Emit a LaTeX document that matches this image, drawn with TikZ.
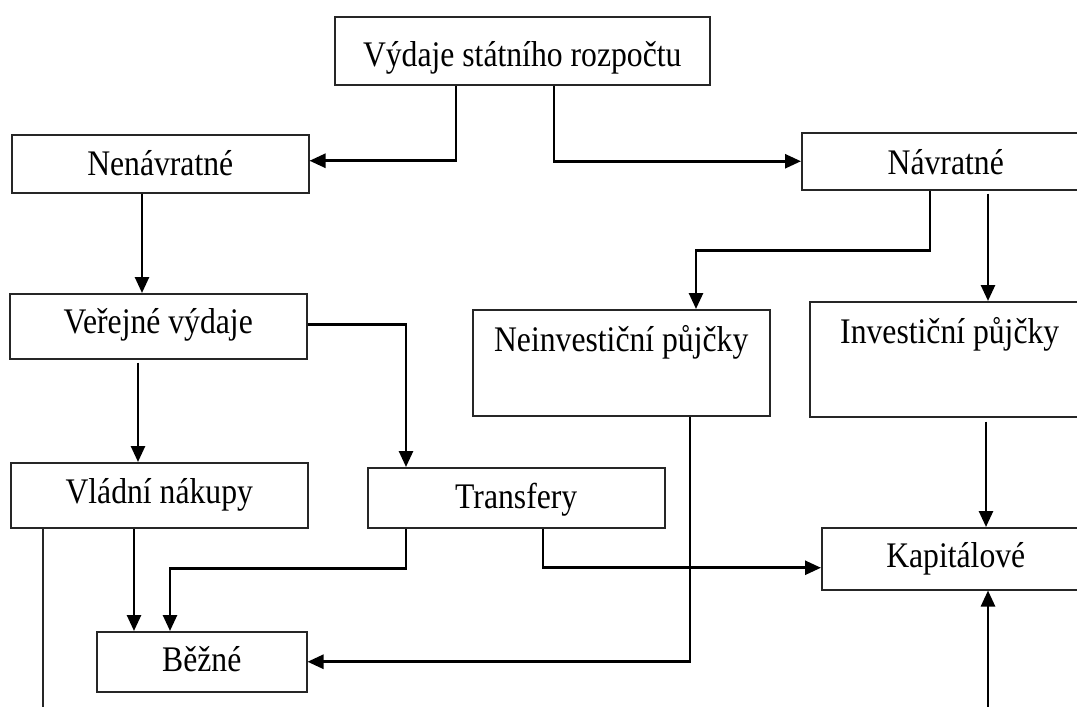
\documentclass[tikz,border=0pt]{standalone}
\usepackage{fontspec}
\setmainfont{Liberation Serif}[FakeStretch=0.88]
\usetikzlibrary{arrows.meta}
\begin{document}
\begin{tikzpicture}[x=1pt,y=-1pt,
  box/.style={draw=black!85, line width=1.5pt, rectangle, inner xsep=0pt,
    inner ysep=0pt, anchor=north west, font=\fontsize{36}{40}\selectfont},
  flow/.style={line width=2.6pt, -{Triangle[width=14pt,length=16pt]}},
  plain/.style={line width=1.2pt, draw=black!85}]
\useasboundingbox (0,0) rectangle (1077,707);

% boxes
\node[box, minimum width=375pt, text height=50pt, text depth=18pt] (top) at (334,16) {Výdaje státního rozpočtu};
\node[box, minimum width=297pt, text height=41pt, text depth=17pt] (nen) at (11,134) {Nenávratné};
\node[box, minimum width=288pt, text height=42pt, text depth=15pt] (nav) at (801,132) {Návratné};
\node[box, minimum width=297pt, text height=40pt, text depth=25pt] (ver) at (9,293) {Veřejné výdaje};
\node[box, minimum width=297pt, text height=41pt, text depth=24pt] (vla) at (10,462) {Vládní nákupy};
\node[box, minimum width=297pt, text height=41pt, text depth=19pt] (tra) at (367,467) {Transfery};
\node[box, minimum width=297pt, text height=42pt, text depth=64pt] (nei) at (472,309) {Neinvestiční půjčky};
\node[box, minimum width=280pt, text height=42pt, text depth=73pt] (inv) at (809,301) {Investiční půjčky};
\node[box, minimum width=268pt, text height=40pt, text depth=22pt] (kap) at (821,527) {Kapitálové};
\node[box, minimum width=210pt, text height=40pt, text depth=20pt] (bez) at (96,631) {Běžné};

% connector end points
\coordinate (t1) at ([xshift=122pt]top.south west);
\coordinate (t2) at ([xshift=220pt]top.south west);
\coordinate (n1) at ([xshift=131pt]nen.south west);
\coordinate (v1) at ([xshift=129pt,yshift=-3pt]ver.south west);
\coordinate (r1) at ([xshift=39pt]tra.north west);
\coordinate (w1) at ([xshift=124pt]vla.south west);
\coordinate (r2) at ([xshift=39pt]tra.south west);
\coordinate (b1) at ([xshift=74pt]bez.north west);
\coordinate (r3) at ([xshift=176pt]tra.south west);
\coordinate (m1) at ([xshift=129pt]nav.south west);
\coordinate (q1) at ([xshift=224pt]nei.north west);
\coordinate (m2) at ([xshift=187pt,yshift=-3pt]nav.south west);
\coordinate (i1) at ([xshift=177pt,yshift=-4pt]inv.south west);
\coordinate (k0) at (988,712);
\coordinate (e1) at ([xshift=218pt]nei.south west);
\coordinate (h1) at ([xshift=33pt]vla.south west);
\coordinate (h0) at (43,712);

% connectors
\draw[flow] (t1) |- ([yshift=3pt]nen.east);
\draw[flow] (t2) |- (nav.west);
\draw[flow] (n1) -- (n1 |- ver.north);
\draw[flow] (v1) -- (v1 |- vla.north);
\draw[flow] ([yshift=2pt]ver.east) -| (r1);
\draw[flow] (w1) -- (w1 |- bez.north);
\draw[flow] (r2) -- ++(0,40) -| (b1);
\draw[flow] (r3) |- ([yshift=-9pt]kap.west);
\draw[flow] (m1) -- ++(0,60) -| (q1);
\draw[flow] (m2) -- (m2 |- inv.north);
\draw[flow] (i1) -- (i1 |- kap.north);
\draw[flow] (k0) -- (k0 |- kap.south);
\draw[flow] (e1) |- (bez.east);
\draw[plain] (h1) -- (h0);
\end{tikzpicture}
\end{document}
